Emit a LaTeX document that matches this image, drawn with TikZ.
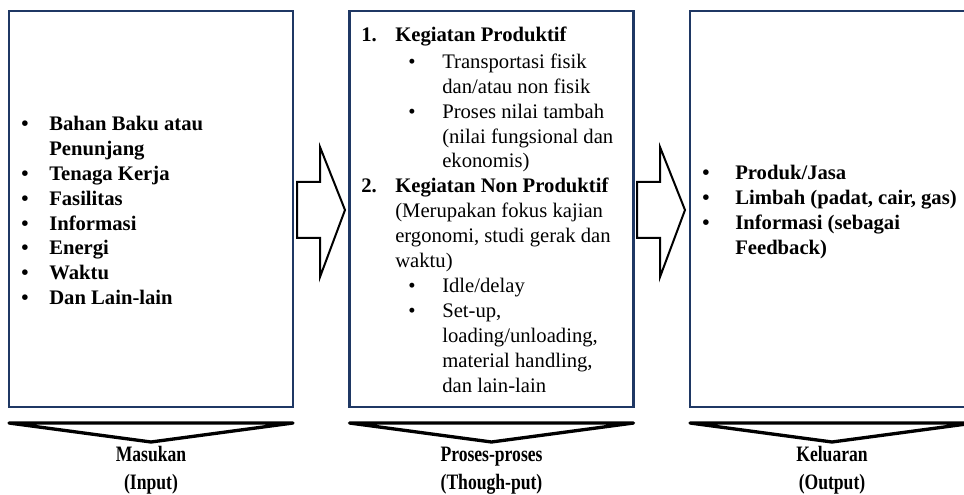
\documentclass[tikz,border=0pt]{standalone}
\usepackage{fontspec}
\setmainfont{Liberation Serif}
\newfontfamily\capfont[FakeStretch=0.8]{Liberation Serif}
\usetikzlibrary{positioning,calc}
\definecolor{boxnavy}{RGB}{31,56,100}
\newcommand{\blt}[1]{\makebox[#1][l]{\textbullet}}

\begin{document}
\begin{tikzpicture}[x=0.75pt, y=-0.75pt,
    panel/.style={draw=boxnavy, line width=2pt, minimum width=213pt, minimum height=297pt, inner sep=0pt},
    itemtext/.style={align=left, inner sep=0pt, font=\fontsize{15.5}{18.7}\selectfont},
    bigarrow/.style={draw=black, line width=1.5pt, fill=white, line join=miter},
    downarrow/.style={draw=black, line width=2.5pt, line join=round},
    caption/.style={anchor=north, align=center, inner sep=0pt, font=\capfont\fontsize{16.5}{20.5}\selectfont\bfseries}
]
    \useasboundingbox (0,0) rectangle (964,495);

    \node[panel] (inbox) at (151,209) {};
    \node[panel] (procbox) at (491.5,209) {};
    \node[panel] (outbox) at (832,209) {};

    \node[itemtext, anchor=west, font=\fontsize{15.5}{18.7}\selectfont\bfseries] (inlist) at (21,210.5) {%
        \blt{21pt}Bahan Baku atau\\
        \hspace*{21pt}Penunjang\\
        \blt{21pt}Tenaga Kerja\\
        \blt{21pt}Fasilitas\\
        \blt{21pt}Informasi\\
        \blt{21pt}Energi\\
        \blt{21pt}Waktu\\
        \blt{21pt}Dan Lain-lain};

    \node[itemtext, anchor=north west] (proclist) at (361,26.5) {%
        \makebox[25.5pt][l]{\bfseries 1.}\textbf{Kegiatan Produktif}\\[1.5pt]
        \hspace*{35.25pt}\blt{25.5pt}Transportasi fisik\\
        \hspace*{60.75pt}dan/atau non fisik\\
        \hspace*{35.25pt}\blt{25.5pt}Proses nilai tambah\\
        \hspace*{60.75pt}(nilai fungsional dan\\
        \hspace*{60.75pt}ekonomis)\\
        \makebox[25.5pt][l]{\bfseries 2.}\textbf{Kegiatan Non Produktif}\\
        \hspace*{25.5pt}(Merupakan fokus kajian\\
        \hspace*{25.5pt}ergonomi, studi gerak dan\\
        \hspace*{25.5pt}waktu)\\
        \hspace*{35.25pt}\blt{25.5pt}Idle/delay\\
        \hspace*{35.25pt}\blt{25.5pt}Set-up,\\
        \hspace*{60.75pt}loading/unloading,\\
        \hspace*{60.75pt}material handling,\\
        \hspace*{60.75pt}dan lain-lain};

    \node[itemtext, anchor=west, font=\fontsize{15.5}{18.7}\selectfont\bfseries] (outlist) at (702,212) {%
        \blt{24.75pt}Produk/Jasa\\
        \blt{24.75pt}Limbah (padat, cair, gas)\\
        \blt{24.75pt}Informasi (sebagai\\
        \hspace*{24.75pt}Feedback)};

    % block arrows between the panels
    \foreach \dx in {0,340} {
        \draw[bigarrow] (297+\dx,182) -- (320+\dx,182) -- (320+\dx,147) -- (345+\dx,210)
            -- (320+\dx,277) -- (320+\dx,238) -- (297+\dx,238) -- cycle;
    }

    % flat arrows under the panels
    \foreach \cx in {151,491.5,832} {
        \draw[downarrow] (\cx-142,423) -- (\cx+142,423) -- (\cx,442) -- cycle;
    }

    \node[caption] (incap) at (151,442.5) {\strut Masukan\\(Input)};
    \node[caption] (proccap) at (491.5,442.5) {\strut Proses-proses\\(Though-put)};
    \node[caption] (outcap) at (832,442.5) {\strut Keluaran\\(Output)};
\end{tikzpicture}
\end{document}
